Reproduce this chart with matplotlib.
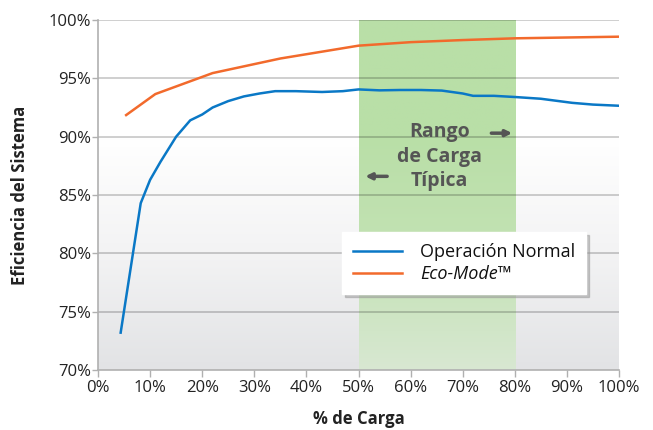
import numpy as np
import matplotlib
matplotlib.use("Agg")
import matplotlib.pyplot as plt
from matplotlib.colors import LinearSegmentedColormap

plt.rcParams['font.family'] = ['Open Sans', 'DejaVu Sans']

# Data
normal_x = [4.35, 8.2, 10, 12, 15, 17.7, 20, 22, 25, 28, 31, 34, 38, 43, 47, 50, 54, 58,
            62, 66, 70, 72, 76, 80, 85, 91, 95, 100]
normal_y = [73.2, 84.3, 86.3, 87.85, 90.0, 91.4, 91.9, 92.5, 93.05, 93.45, 93.7, 93.9, 93.9,
            93.83, 93.9, 94.05, 93.97, 94.0, 94.0, 93.95, 93.7, 93.5, 93.5, 93.4, 93.25,
            92.9, 92.75, 92.65]
eco_x = [5.4, 11, 22, 35, 50, 60, 70, 80, 90, 100]
eco_y = [91.85, 93.65, 95.45, 96.7, 97.8, 98.1, 98.28, 98.43, 98.5, 98.57]

x_ticks = [0, 10, 20, 30, 40, 50, 60, 70, 80, 90, 100]
y_ticks = [70, 75, 80, 85, 90, 95, 100]
band = (50, 80)

fig = plt.figure(figsize=(6.53, 4.30), dpi=100)
ax = fig.add_axes([98/653, 1-370/430, 521/653, 350/430])
ax.set_xlim(0, 100)
ax.set_ylim(70, 100)

# background gradient
grad = np.linspace(0, 1, 256).reshape(-1, 1)
bg_cmap = LinearSegmentedColormap.from_list('bg', ['#e2e3e5', '#f3f3f4', '#ffffff', '#ffffff'])
ax.imshow(grad, extent=[0, 100, 70, 100], origin='lower', aspect='auto', cmap=bg_cmap,
          zorder=0)
# green band gradient
g_cmap = LinearSegmentedColormap.from_list('g', ['#d8e8d2', '#c3e2b4', '#b9dfa7', '#b9dfa7'])
ax.imshow(grad, extent=[band[0], band[1], 70, 100], origin='lower', aspect='auto',
          cmap=g_cmap, zorder=0.5)

for yv in y_ticks[1:]:
    ax.axhline(yv, color='#000000', alpha=0.22, lw=1.2, zorder=1)

ax.plot(normal_x, normal_y, color='#0a78c6', lw=1.8, zorder=3, label='Operación Normal')
ax.plot(eco_x, eco_y, color='#f26a2c', lw=1.8, zorder=3, label='Eco-Mode™')

ax.set_xticks(x_ticks)
ax.set_xticklabels([f'{v}%' for v in x_ticks])
ax.set_yticks(y_ticks)
ax.set_yticklabels([f'{v}%' for v in y_ticks])
ax.tick_params(axis='both', colors='#b0b0b0', labelcolor='#222222', labelsize=12,
               length=5, width=1)
ax.tick_params(axis='x', pad=2)
ax.tick_params(axis='y', pad=1, length=4)
for s in ['top', 'right']:
    ax.spines[s].set_visible(False)
for s in ['left', 'bottom']:
    ax.spines[s].set_color('#b0b0b0')
    ax.spines[s].set_linewidth(1.2)

ax.set_xlabel('% de Carga', fontsize=12, fontweight='bold', color='#222222', labelpad=10)
ax.set_ylabel('Eficiencia del Sistema', fontsize=12, fontweight='bold', color='#222222',
              labelpad=14)

ax.text(65.5, 88.3, 'Rango\nde Carga\nTípica', ha='center', va='center', fontsize=14,
        fontweight='bold', color='#555555', linespacing=1.3, zorder=4)
ax.annotate('', xy=(79.5, 90.3), xytext=(75.5, 90.3),
            arrowprops=dict(arrowstyle='-|>', color='#555555', lw=2.5,
                            mutation_scale=9, shrinkA=0, shrinkB=0), zorder=4)
ax.annotate('', xy=(51.3, 86.6), xytext=(55.5, 86.6),
            arrowprops=dict(arrowstyle='-|>', color='#555555', lw=2.5,
                            mutation_scale=9, shrinkA=0, shrinkB=0), zorder=4)

leg = ax.legend(loc='upper left', bbox_to_anchor=(0.468, 0.394),
                frameon=True, fancybox=False, fontsize=13, handlelength=2.7,
                handletextpad=1.0, borderpad=0.62, labelspacing=0.2, borderaxespad=0,
                shadow={'color': '#999999', 'alpha': 0.5})
leg.get_frame().set_edgecolor('#ffffff')
leg.get_frame().set_facecolor('#ffffff')
leg.get_frame().set_alpha(1)
leg.texts[1].set_fontstyle('italic')
for t in leg.texts:
    t.set_color('#111111')
leg.set_zorder(5)

fig.savefig('out.png', dpi=100)
